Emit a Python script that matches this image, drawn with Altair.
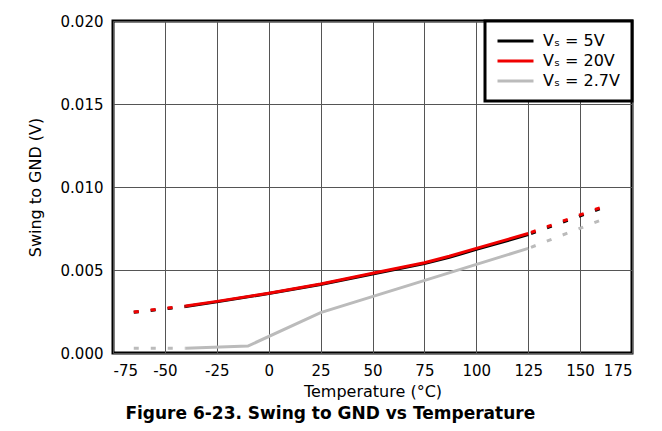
import altair as alt
import pandas as pd

# ---- data ----
series = ["Vₛ = 5V", "Vₛ = 20V", "Vₛ = 2.7V"]
colors = ["#000000", "#f00000", "#bbbbbb"]

# solid (measured) portions
temp_5v = [-40, -25, 0, 25, 50, 75, 87, 100, 125]
swing_5v = [0.00280, 0.00308, 0.00358, 0.00413, 0.00476, 0.00539, 0.00576, 0.00624, 0.00713]
temp_20v = [-40, -25, 0, 25, 50, 75, 87, 100, 125]
swing_20v = [0.00283, 0.00311, 0.00360, 0.00416, 0.00480, 0.00544, 0.00583, 0.00630, 0.00720]
temp_27v = [-40, -10, 25, 125]
swing_27v = [0.00028, 0.00042, 0.00243, 0.00630]

# dashed (extrapolated) portions
dash_left_temp = [-65, -40]
dash_left_5v = [0.00245, 0.00280]
dash_left_20v = [0.00247, 0.00283]
dash_left_27v = [0.00028, 0.00028]
dash_right_temp = [125, 162]
dash_right_5v = [0.00713, 0.00880]
dash_right_20v = [0.00720, 0.00886]
dash_right_27v = [0.00630, 0.00810]

x_ticks = [-75, -50, -25, 0, 25, 50, 75, 100, 125, 150, 175]
y_ticks = [0.000, 0.005, 0.010, 0.015, 0.020]

rows = []
def add(name, seg, temps, vals):
    for t, v in zip(temps, vals):
        rows.append({"series": name, "seg": seg, "temp": t, "swing": v})

add(series[0], "solid", temp_5v, swing_5v)
add(series[1], "solid", temp_20v, swing_20v)
add(series[2], "solid", temp_27v, swing_27v)
add(series[0], "left", dash_left_temp, dash_left_5v)
add(series[1], "left", dash_left_temp, dash_left_20v)
add(series[2], "left", dash_left_temp, dash_left_27v)
add(series[0], "right", dash_right_temp, dash_right_5v)
add(series[1], "right", dash_right_temp, dash_right_20v)
add(series[2], "right", dash_right_temp, dash_right_27v)
df = pd.DataFrame(rows)

FONT = "DejaVu Sans"

x_enc = alt.X("temp:Q", scale=alt.Scale(domain=[-75, 175], nice=False),
              axis=alt.Axis(values=x_ticks, title="Temperature (°C)", titlePadding=5,
                            labelExpr="replace(datum.label, '\u2212', '-')"))
y_enc = alt.Y("swing:Q", scale=alt.Scale(domain=[0, 0.02], nice=False),
              axis=alt.Axis(values=y_ticks, format=".3f", title="Swing to GND (V)", titlePadding=17))
c_enc = alt.Color("series:N", scale=alt.Scale(domain=series, range=colors),
                  legend=alt.Legend(title=None))

base = alt.Chart(df)
layers = []
draw_order = [series[2], series[0], series[1]]
for s in draw_order:
    layers.append(
        base.mark_line(strokeWidth=3, strokeCap="butt")
        .encode(x=x_enc, y=y_enc, color=c_enc)
        .transform_filter((alt.datum.series == s) & (alt.datum.seg == "solid"))
    )
for s in draw_order:
    layers.append(
        base.mark_line(strokeWidth=3, strokeCap="butt", strokeDash=[5, 12])
        .encode(x=x_enc, y=y_enc, color=c_enc)
        .transform_filter((alt.datum.series == s) & (alt.datum.seg == "left"))
    )
    layers.append(
        base.mark_line(strokeWidth=3, strokeCap="butt", strokeDash=[5, 12], strokeDashOffset=14)
        .encode(x=x_enc, y=y_enc, color=c_enc)
        .transform_filter((alt.datum.series == s) & (alt.datum.seg == "right"))
    )

chart = (
    alt.layer(*layers)
    .properties(
        width=519, height=332,
        autosize=alt.AutoSizeParams(type="none"),
        padding={"left": 105, "top": 13, "right": 22, "bottom": 70},
        title=alt.TitleParams("Figure 6-23. Swing to GND vs Temperature", orient="bottom",
                              anchor="middle", frame="bounds", font=FONT, fontSize=17,
                              fontWeight="bold", color="black", offset=7),
    )
    .configure_view(stroke="black", strokeWidth=3)
    .configure_axis(labelFont=FONT, labelFontSize=15, labelColor="black",
                    titleFont=FONT, titleFontSize=16, titleFontWeight="normal", titleColor="black",
                    grid=True, gridColor="#555555", gridWidth=1, domain=False, ticks=False,
                    labelPadding=10)
    .configure_legend(orient="top-right", offset=0, padding=12, strokeColor="black", strokeWidth=3,
                      fillColor="white", labelFont=FONT, labelFontSize=16, labelColor="black",
                      symbolType="M-1.25,0L4.75,0", symbolSize=144, symbolStrokeWidth=3,
                      labelOffset=30, rowPadding=4, symbolOffset=0)
)

chart.save("out.html", embed_options={"renderer": "svg", "actions": False})
